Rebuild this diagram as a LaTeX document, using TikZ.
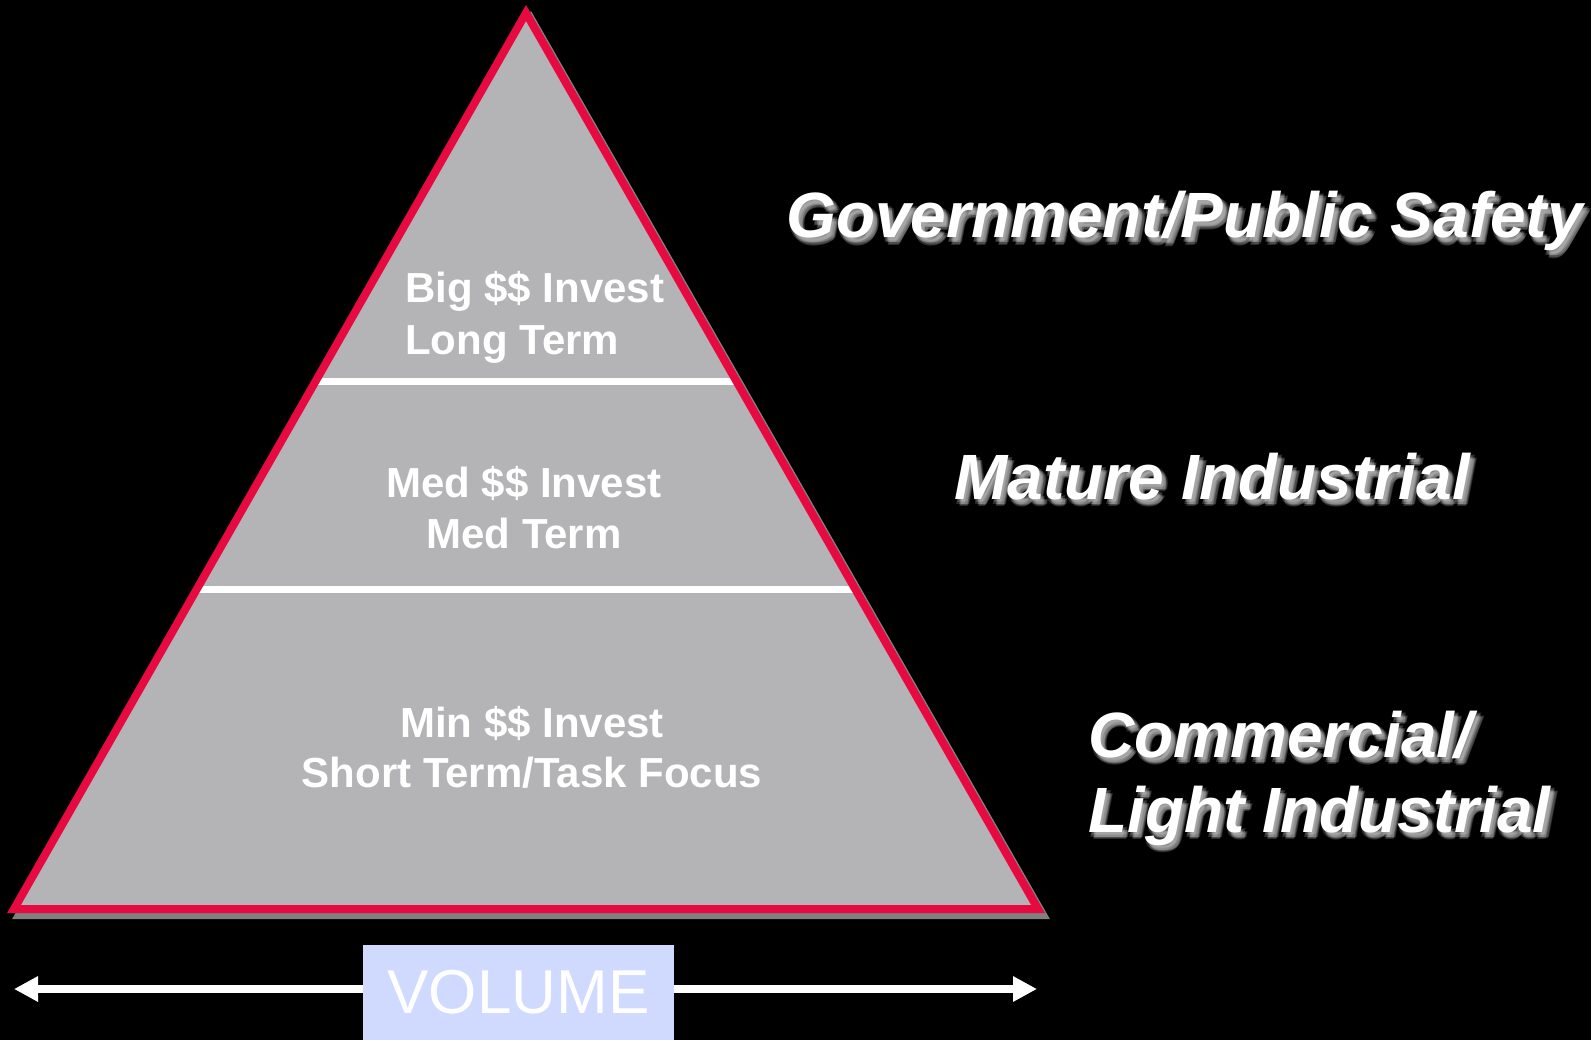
\documentclass[tikz,border=0pt]{standalone}
\usepackage{fontspec}
\setmainfont{Liberation Sans}
\usetikzlibrary{arrows.meta,calc}
\definecolor{tierfill}{RGB}{180,180,182}
\definecolor{rim}{RGB}{230,10,64}
\definecolor{dropshade}{RGB}{128,128,128}
\definecolor{volbox}{RGB}{208,218,255}
\definecolor{haze}{RGB}{210,210,210}

% white italic label with a soft offset shadow behind it
\newcommand\glowlabel[3]{%
  \foreach \gx/\gy [count=\k] in {4/5,1.5/5,6.5/5,4/2.5,4/7.5,2.5/3.5,5.5/6.5}{%
    \node[segment, text=haze, text opacity=0.2] (#1-h\k) at ($(#2)+(\gx,\gy)$) {#3};}
  \node[segment] (#1) at (#2) {#3};}

\begin{document}
\begin{tikzpicture}[x=1pt,y=-1pt,
  tier/.style={font=\fontsize{42}{50}\selectfont\bfseries, text=white, inner sep=0pt},
  segment/.style={font=\fontsize{64}{75}\selectfont\bfseries\itshape, text=white, inner sep=0pt, anchor=base west},
  divider/.style={white, line width=7pt},
  rimline/.style={draw=rim, line width=8pt},
  volarrow/.style={white, line width=7.5pt, -{Triangle[length=24pt,width=24pt]}},
  volstyle/.style={fill=volbox, text=white, font=\fontsize{62}{70}\selectfont, inner sep=0pt}]

% background
\fill[black] (0,0) rectangle (1591,1040);
\useasboundingbox (0,0) rectangle (1591,1040);

% pyramid corners
\coordinate (apex) at (526,13);
\coordinate (bl) at (14,909);
\coordinate (br) at (1038,909);

% drop shadow
\filldraw[dropshade, line width=8pt] ([shift={(5,6)}]apex) -- ([shift={(5,6)}]bl) -- ([shift={(5,6)}]br) -- cycle;

% body
\fill[tierfill] (apex) -- (bl) -- (br) -- cycle;

% tier dividers
\coordinate (d1l) at ($(bl)!0.589!(apex)$);
\coordinate (d1r) at ($(br)!0.589!(apex)$);
\coordinate (d2l) at ($(bl)!0.357!(apex)$);
\coordinate (d2r) at ($(br)!0.357!(apex)$);
\draw[divider] (d1l) -- (d1r);
\draw[divider] (d2l) -- (d2r);

% outline
\draw[rimline] (apex) -- (bl) -- (br) -- cycle;

% tier texts
\node[tier, anchor=base west] (t1a) at (405,303) {Big \$\$ Invest};
\node[tier, anchor=base west] (t1b) at (405,355) {Long Term};
\node[tier, anchor=base] (t2a) at (524,497) {Med \$\$ Invest};
\node[tier, anchor=base] (t2b) at (524,548) {Med Term};
\node[tier, anchor=base] (t3a) at (532,737) {Min \$\$ Invest};
\node[tier, anchor=base] (t3b) at (532,787) {Short Term/Task Focus};

% segment labels
\coordinate (govpos) at (786,238);
\coordinate (matpos) at (954,499);
\coordinate (compos) at (1088,757);
\coordinate (ligpos) at (1088,832);
\glowlabel{gov}{govpos}{Government/Public Safety}
\glowlabel{mat}{matpos}{Mature Industrial}
\glowlabel{com}{compos}{Commercial/}
\glowlabel{lig}{ligpos}{Light Industrial}

% volume axis
\node[volstyle, minimum width=311pt, minimum height=95pt] (vol) at (518.5,992.5) {VOLUME};
\coordinate (lefttip) at (14,989);
\coordinate (righttip) at (1037,989);
\draw[volarrow] (vol.west |- lefttip) -- (lefttip);
\draw[volarrow] (vol.east |- righttip) -- (righttip);
\end{tikzpicture}
\end{document}
